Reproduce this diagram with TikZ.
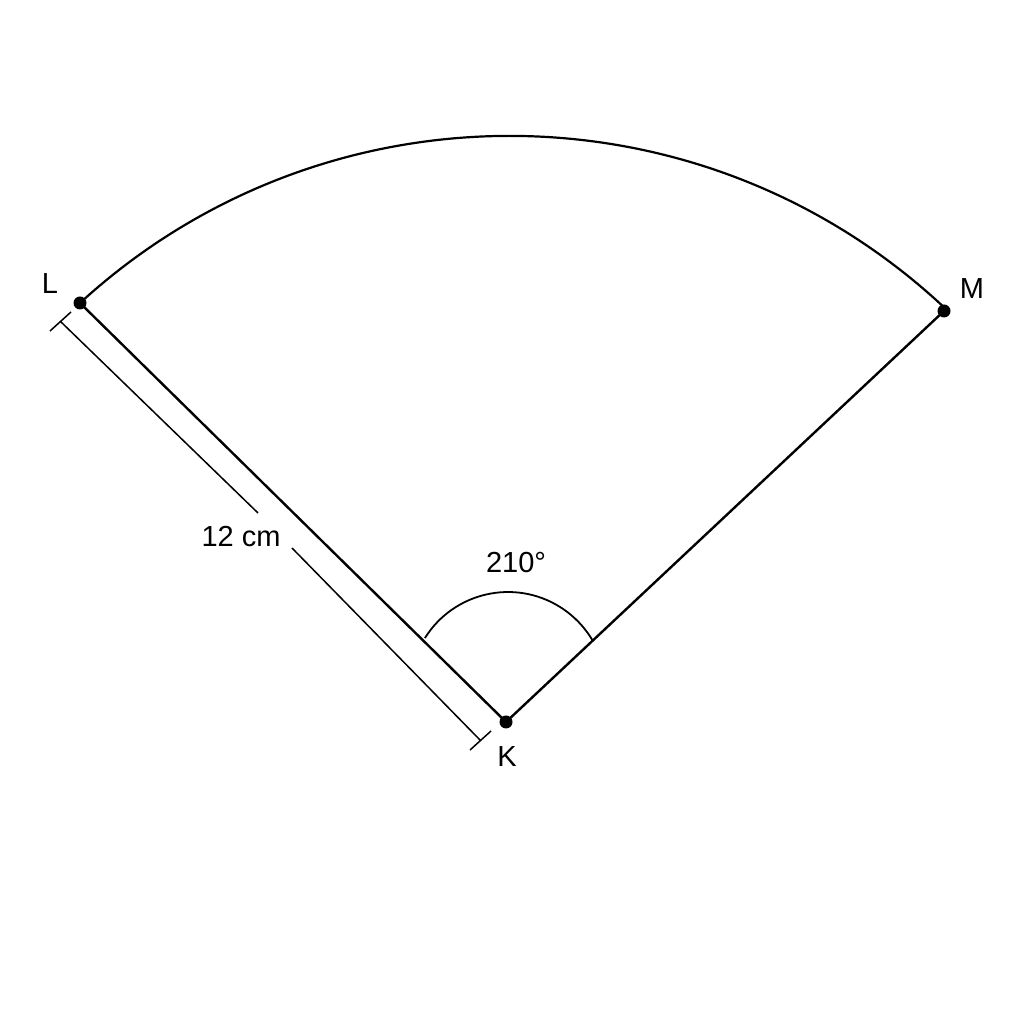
\documentclass[tikz,border=0pt]{standalone}
\usepackage{fontspec}
\setmainfont{Liberation Sans}
\begin{document}
\begin{tikzpicture}[x=1pt,y=1pt,
  mainline/.style={line width=2.4pt,line cap=round},
  dimline/.style={line width=1.5pt},
  dot/.style={circle,fill=black,inner sep=0pt,minimum size=13pt},
  lbl/.style={font=\fontsize{29}{34}\selectfont,inner sep=0pt}]
\useasboundingbox (0,0) rectangle (1024,1024);
\fill[white] (0,0) rectangle (1024,1024);
% points
\coordinate (K) at (506,302);
\coordinate (L) at (80,721);
\coordinate (M) at (944,713);
% sides
\draw[mainline] (L) -- (K) -- (M);
% outer arc
\draw[line width=2.2pt] (L) arc[start angle=132.5,end angle=47,radius=636];
% angle arc
\coordinate (A1) at (424.9,385.9);
\draw[line width=1.8pt] (A1) arc[start angle=148,end angle=30,radius=98];
% dimension
\coordinate (T1a) at (50,693);
\coordinate (T1b) at (71,712);
\coordinate (T2a) at (470,274);
\coordinate (T2b) at (491,293);
\coordinate (D1) at (60.5,702.5);
\coordinate (D2) at (480.5,283.5);
\coordinate (G1) at (258,511);
\coordinate (G2) at (292,476);
\draw[dimline] (T1a) -- (T1b);
\draw[dimline] (T2a) -- (T2b);
\draw[dimline] (D1) -- (G1);
\draw[dimline] (G2) -- (D2);
% dots
\node[dot] (Kd) at (K) {};
\node[dot] (Ld) at (L) {};
\node[dot] (Md) at (M) {};
% labels
\node[lbl] (Ll) at (50,740) {L};
\node[lbl] (Ml) at (972,735) {M};
\node[lbl] (Kl) at (507,267) {K};
\node[lbl] (len) at (241,487) {12 cm};
\node[lbl] (ang) at (516,461) {210°};
\end{tikzpicture}
\end{document}
